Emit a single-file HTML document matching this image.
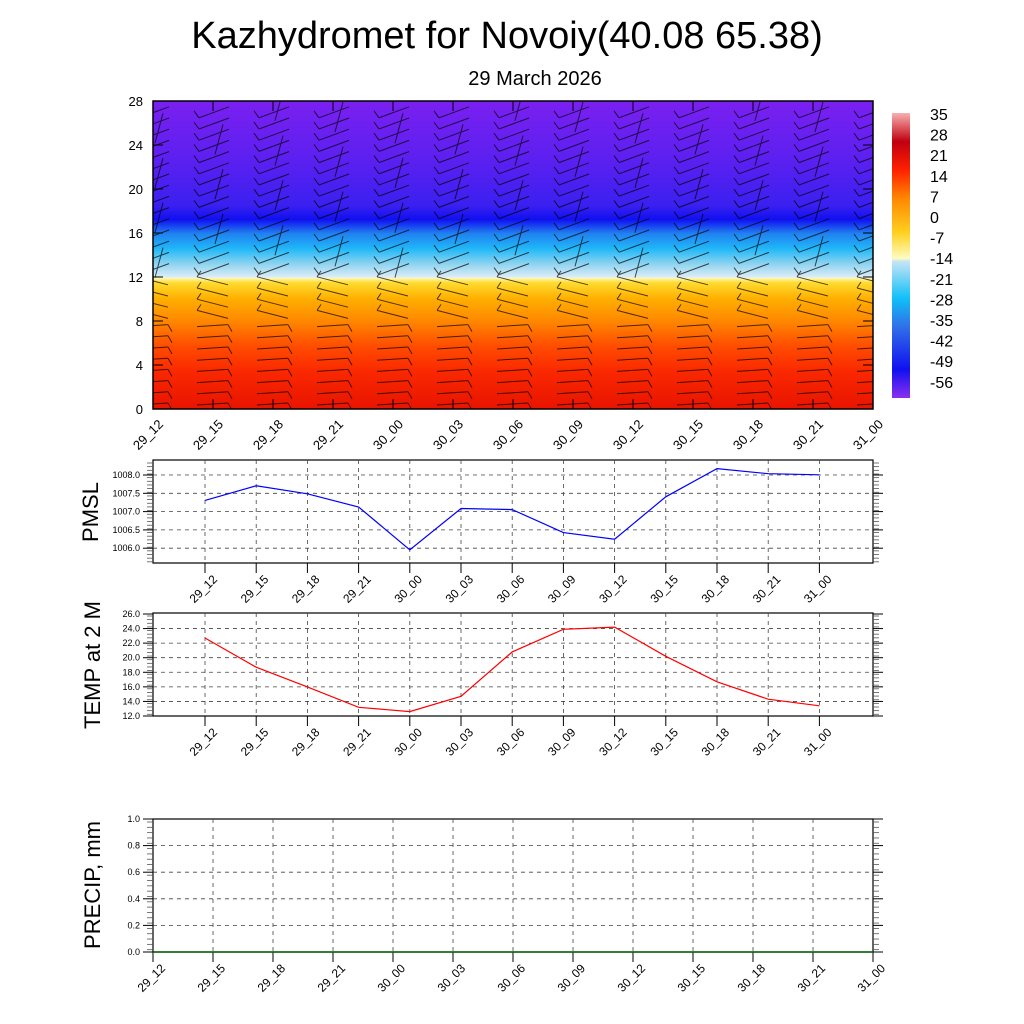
<!DOCTYPE html>
<html><head><meta charset="utf-8"><style>
body{margin:0;background:#fff}
svg{display:block;font-family:"Liberation Sans",sans-serif}
</style></head><body>
<svg id="s" width="1024" height="1024" viewBox="0 0 1024 1024" xmlns="http://www.w3.org/2000/svg">
<defs>
<linearGradient id="g" x1="0" y1="409" x2="0" y2="101" gradientUnits="userSpaceOnUse">
<stop offset="0" stop-color="#e81400"/>
<stop offset="0.12" stop-color="#fa2800"/>
<stop offset="0.2" stop-color="#ff4a00"/>
<stop offset="0.29" stop-color="#ff8a00"/>
<stop offset="0.36" stop-color="#ffb000"/>
<stop offset="0.41" stop-color="#ffdc30"/>
<stop offset="0.425" stop-color="#fff6b8"/>
<stop offset="0.428" stop-color="#dceef8"/>
<stop offset="0.47" stop-color="#90d4f0"/>
<stop offset="0.52" stop-color="#20b8f8"/>
<stop offset="0.57" stop-color="#2080f0"/>
<stop offset="0.615" stop-color="#1010f0"/>
<stop offset="0.66" stop-color="#3a20f0"/>
<stop offset="0.8" stop-color="#5a20f0"/>
<stop offset="1" stop-color="#7a20f0"/>
</linearGradient>
<linearGradient id="cb" x1="0" y1="398" x2="0" y2="113" gradientUnits="userSpaceOnUse">
<stop offset="0" stop-color="#8a30f0"/>
<stop offset="0.1" stop-color="#1010f0"/>
<stop offset="0.25" stop-color="#3070e8"/>
<stop offset="0.35" stop-color="#10c0f8"/>
<stop offset="0.48" stop-color="#c8e4f4"/>
<stop offset="0.49" stop-color="#fffcc0"/>
<stop offset="0.58" stop-color="#ffd020"/>
<stop offset="0.7" stop-color="#ff8800"/>
<stop offset="0.8" stop-color="#ff2000"/>
<stop offset="0.9" stop-color="#c00010"/>
<stop offset="1" stop-color="#f8b0b0"/>
</linearGradient>
<clipPath id="cp"><rect x="153" y="101" width="720" height="308"/></clipPath>
</defs>
<text x="507" y="48" font-size="38" text-anchor="middle">Kazhydromet for Novoiy(40.08 65.38)</text>
<text x="535" y="85" font-size="20" text-anchor="middle">29 March 2026</text>
<rect x="153" y="101" width="720" height="308" fill="url(#g)"/>
<g id="barbs" stroke="#000" stroke-width="1" fill="none" opacity="0.7" clip-path="url(#cp)"></g>
<rect x="153" y="101" width="720" height="308" fill="none" stroke="#000" stroke-width="1.5"/>
<rect x="892" y="113" width="18" height="285" fill="url(#cb)"/>
<text transform="translate(98,512) rotate(-90)" font-size="22" text-anchor="middle">PMSL</text>
<text transform="translate(100,665) rotate(-90)" font-size="22" text-anchor="middle">TEMP at 2 M</text>
<text transform="translate(100,885) rotate(-90)" font-size="22" text-anchor="middle">PRECIP, mm</text>
</svg>
<script>
var NS="http://www.w3.org/2000/svg",S=document.getElementById('s');
function el(t,a,p){var e=document.createElementNS(NS,t);for(var k in a)e.setAttribute(k,a[k]);(p||S).appendChild(e);return e;}
function line(x1,y1,x2,y2,a,p){a=a||{};a.x1=x1;a.y1=y1;a.x2=x2;a.y2=y2;if(!a.stroke)a.stroke="#000";return el('line',a,p);}
function txt(x,y,s,a){a=a||{};a.x=x;a.y=y;var e=el('text',a);e.textContent=s;return e;}
var labs=["29_12","29_15","29_18","29_21","30_00","30_03","30_06","30_09","30_12","30_15","30_18","30_21","31_00"];
function rotlab(x,y,s,fs){txt(0,0,s,{transform:"translate("+x+","+y+") rotate(-45)","font-size":fs,"text-anchor":"end"});}
for(var i=0;i<=7;i++){var y=409-i*44;txt(143,y+5,String(i*4),{"font-size":13,"text-anchor":"end"});line(153,y,163,y);line(863,y,873,y);}
for(var i=0;i<13;i++){var x=153+60*i;line(x,409,x,399);line(x,101,x,111);rotlab(x+11,425,labs[i],13);}
var cl=[35,28,21,14,7,0,-7,-14,-21,-28,-35,-42,-49,-56];
for(var i=0;i<14;i++)txt(930,120+i*20.6,String(cl[i]),{"font-size":16});
var B=document.getElementById('barbs');
for(var i=0;i<13;i++){var x=153+60*i;
 for(var k=0;k<27;k++){var y=404-k*11.2;var h=k+0.5;
  if(h<8){line(x-16,y+1,x+15,y-1,{},B);line(x+15,y-1,x+19,y+6,{},B);}
  else if(h<12){line(x-16,y-4,x+15,y+4,{},B);line(x-16,y-4,x-12,y-10,{},B);}
  else{line(x-14,y+5,x+16,y-6,{},B);line(x-14,y+5,x-19,y-2,{},B);
   if((i+k)%4==0)line(x+2,y+8,x+10,y-22,{},B);}
 }}
function panel(y0,y1,xs,yt,labx,minor){
 el('rect',{x:153,y:y0,width:720,height:y1-y0,fill:"none",stroke:"#000","stroke-width":1.2});
 for(var j=0;j<yt.length;j++){var y=yt[j][0];
  if(y>y0+2&&y<y1-2)line(153,y,873,y,{stroke:"#444","stroke-dasharray":"4,4","stroke-width":0.8});
  line(143,y,153,y);line(873,y,883,y);txt(140,y+3,yt[j][1],{"font-size":9,"text-anchor":"end"});}
 for(var y=y0+3;y<y1;y+=minor){line(147,y,153,y,{stroke:"#555","stroke-width":0.8});line(873,y,879,y,{stroke:"#555","stroke-width":0.8});}
 for(var j=0;j<xs.length;j++){var x=xs[j];if(x>155&&x<871)line(x,y0,x,y1,{stroke:"#444","stroke-dasharray":"4,4","stroke-width":0.8});
  line(x,y1,x,y1+10);rotlab(x+13,y1+17,labx[j],12);}
}
var xs1=[];for(var i=0;i<13;i++)xs1.push(205+51.2*i);
var yt=[];var pm=["1008.0","1007.5","1007.0","1006.5","1006.0"];for(var j=0;j<5;j++)yt.push([475+j*18.3,pm[j]]);
var pv=[1007.3,1007.7,1007.48,1007.12,1005.95,1007.08,1007.05,1006.42,1006.24,1007.4,1008.17,1008.03,1008.0];
panel(460,563,xs1,yt,labs,3.66);
el('polyline',{points:pv.map(function(v,j){return xs1[j]+","+(548-(v-1006)*36.6).toFixed(1)}).join(" "),fill:"none",stroke:"#00f","stroke-width":1.2});
var yt2=[];for(var j=0;j<8;j++)yt2.push([614+j*14.57,(26-2*j).toFixed(1)]);
var tv=[22.7,18.7,16.0,13.2,12.6,14.7,20.8,23.9,24.2,20.2,16.7,14.3,13.4];
panel(613,716,xs1,yt2,labs,3.64);
el('polyline',{points:tv.map(function(v,j){return xs1[j]+","+(716-(v-12)*7.286).toFixed(1)}).join(" "),fill:"none",stroke:"#f00","stroke-width":1.2});
var xs3=[];for(var i=0;i<13;i++)xs3.push(153+60*i);
var yt3=[];for(var j=0;j<6;j++)yt3.push([952-j*26.6,(j*0.2).toFixed(1)]);
panel(819,952,xs3,yt3,labs,5.32);
line(153,952,873,952,{stroke:"#060","stroke-width":1.5});
</script>
</body></html>
